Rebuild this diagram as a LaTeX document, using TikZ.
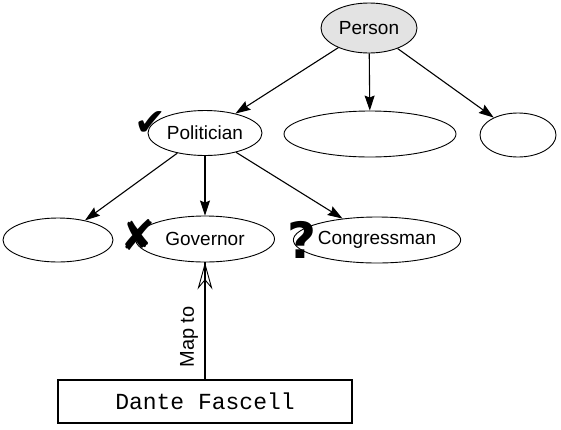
\documentclass[tikz,border=0pt]{standalone}
\usepackage{fontspec}
\setmainfont{Liberation Sans}
\newfontfamily\symfont{DejaVu Sans}
\newfontfamily\monofont{Liberation Mono}
\usetikzlibrary{shapes.geometric,arrows.meta}
\begin{document}
\begin{tikzpicture}[x=1pt,y=-1pt,
 cls/.style={ellipse,draw,line width=0.9pt,inner sep=0pt,font=\fontsize{19}{21}\selectfont},
 edge/.style={line width=1.1pt,-{Stealth[length=15pt,width=10pt,inset=2pt]}},
 markglyph/.style={inner sep=0pt,font=\symfont\fontsize{38}{38}\selectfont}]
\useasboundingbox (0,0) rectangle (561,429);
\node[cls,fill=black!11,minimum width=96pt,minimum height=50pt] (person) at (369,28) {Person};
\node[cls,minimum width=114pt,minimum height=45pt] (pol) at (205,133) {Politician};
\node[cls,minimum width=172pt,minimum height=46pt] (mid) at (370,134) {};
\node[cls,minimum width=76pt,minimum height=44pt] (right) at (518,135) {};
\node[cls,minimum width=110pt,minimum height=44pt] (left) at (58,240) {};
\node[cls,minimum width=139pt,minimum height=46pt] (gov) at (205,239) {Governor};
\node[cls,minimum width=160pt,minimum height=46pt] (cong) at (377,240) {Congressman};
\node[draw,line width=2pt,minimum width=294pt,minimum height=43pt,inner sep=0pt,font=\monofont\fontsize{23}{25}\selectfont] (dante) at (205,401) {Dante Fascell};
\draw[edge] (person) -- (pol);
\draw[edge] (person) -- (mid);
\draw[edge] (person) -- (right);
\draw[edge] (pol) -- (left);
\draw[edge] (pol) -- (gov);
\draw[edge] (pol) -- (cong);
\draw[line width=1.6pt] (dante.north) -- (gov.south);
\draw[line width=1.6pt,-{Stealth[open,length=27pt,width=15pt,inset=9pt,line width=0.9pt]}] (dante.north) -- (gov.south);
\node[rotate=90,inner sep=0pt,font=\fontsize{20}{22}\selectfont] (mapto) at (189,337) {Map to};
\node[markglyph] (check) at (150,124) {✔};
\node[markglyph,font=\symfont\fontsize{42}{42}\selectfont] (cross) at (138,235) {✘};
\node[inner sep=0pt,font=\symfont\bfseries\fontsize{50}{50}\selectfont] (quest) at (302,240) {?};
\end{tikzpicture}
\end{document}
